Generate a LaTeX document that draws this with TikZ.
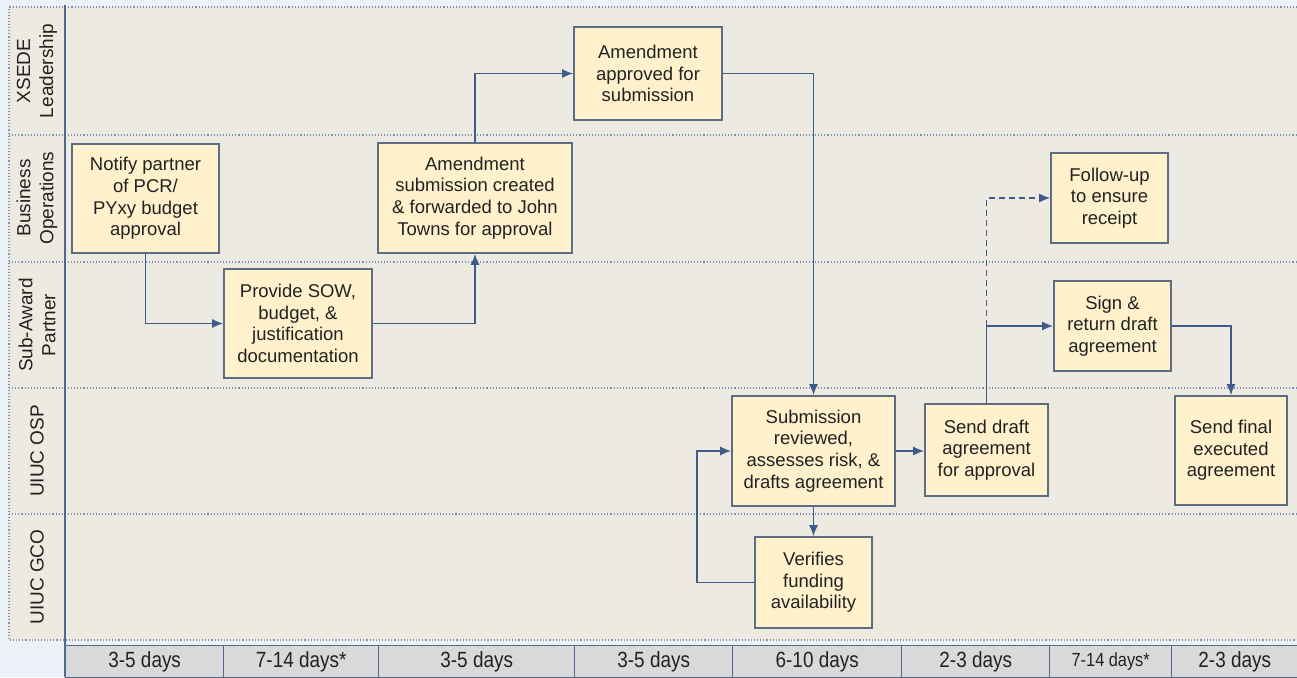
\documentclass[tikz,border=0pt]{standalone}
\usepackage{fontspec}
\setmainfont{Liberation Sans}
\newfontfamily\condfont{Liberation Sans}[FakeStretch=0.86]
\usetikzlibrary{arrows.meta}
\definecolor{lanefill}{HTML}{ECEAE1}
\definecolor{outerbg}{HTML}{EDF2F9}
\definecolor{dotc}{HTML}{7F93AE}
\definecolor{axisc}{HTML}{4F6A8F}
\definecolor{boxc}{HTML}{5E6E82}
\definecolor{boxfill}{HTML}{FFF1CC}
\definecolor{linec}{HTML}{3D5C8C}
\definecolor{tlfill}{HTML}{D9D9D9}
\definecolor{txt}{HTML}{222222}
\tikzset{
  x=1pt, y=-1pt,
  box/.style={draw=boxc, fill=boxfill, line width=1.6pt, align=center, text=txt,
    font=\fontsize{18.5}{21.7}\selectfont, inner sep=0pt},
  conn/.style={draw=linec, line width=1.6pt, -{Latex[length=11pt,width=9pt]}},
  lanelbl/.style={rotate=90, align=center, text=txt, font=\fontsize{19}{23}\selectfont},
  sepline/.style={draw=dotc, line width=1.1pt, dotted},
  tlbox/.style={draw=axisc, fill=tlfill, line width=1.4pt, text=txt, inner sep=0pt,
    font=\condfont\fontsize{22}{24}\selectfont},
}
\begin{document}
\begin{tikzpicture}
\useasboundingbox (0,0) rectangle (1297,677);
\fill[outerbg] (0,0) rectangle (1297,677);
% lane area
\fill[lanefill] (9,7) rectangle (1297,640);
\draw[sepline] (1297,7) -- (9,7) -- (9,640) -- (1297,640);
\foreach \yy in {135,262,388,514} \draw[sepline] (9,\yy) -- (1297,\yy);
% axis line
\draw[axisc, line width=1.6pt] (65,5) -- (65,677);
% lane labels
\node[lanelbl] (l1) at (37,71) {XSEDE\\Leadership};
\node[lanelbl] (l2) at (37,198) {Business\\Operations};
\node[lanelbl] (l3) at (37,325) {Sub-Award\\Partner};
\node[lanelbl] (l4) at (37,451) {UIUC OSP};
\node[lanelbl] (l5) at (37,577) {UIUC GCO};
% timeline
\foreach \xa/\xb/\t [count=\i] in {65/223/3-5 days,223/378/7-14 days*,378/574/3-5 days,574/732/3-5 days,732/901/6-10 days,901/1049/2-3 days,1049/1171/{\fontsize{19}{20}\selectfont 7-14 days*},1171/1297/2-3 days}
  \node[tlbox, minimum width=\xb-\xa, minimum height=32, anchor=north west] (t\i) at (\xa,645) {\t};
% boxes
\node[box, minimum width=147, minimum height=109] (notify) at (145.5,198.5) {Notify partner\\of PCR/\\PYxy budget\\approval};
\node[box, minimum width=148, minimum height=109] (sow) at (298,323.5) {Provide SOW,\\budget, \&\\justification\\documentation};
\node[box, minimum width=194, minimum height=110] (amsub) at (475,198) {Amendment\\submission created\\\& forwarded to John\\Towns for approval};
\node[box, minimum width=148, minimum height=93] (amapp) at (648,73.5) {Amendment\\approved for\\submission};
\node[box, minimum width=163, minimum height=110] (review) at (813.5,451) {Submission\\reviewed,\\assesses risk, \&\\drafts agreement};
\node[box, minimum width=117, minimum height=91] (verify) at (813.5,582.5) {Verifies\\funding\\availability};
\node[box, minimum width=123, minimum height=92] (draft) at (986.5,450) {Send draft\\agreement\\for approval};
\node[box, minimum width=117, minimum height=90] (follow) at (1109.5,198) {Follow-up\\to ensure\\receipt};
\node[box, minimum width=117, minimum height=90] (sign) at (1112.5,326) {Sign \&\\return draft\\agreement};
\node[box, minimum width=112, minimum height=109] (final) at (1231,450.5) {Send final\\executed\\agreement};
% connectors
\coordinate (c1) at (notify.south |- sow.west);
\draw[conn] (notify.south) -- (c1) -- (sow.west);
\coordinate (c2) at (amsub.south |- sow.east);
\draw[conn] (sow.east) -- (c2) -- (amsub.south);
\coordinate (c3) at (amsub.north |- amapp.west);
\draw[conn] (amsub.north) -- (c3) -- (amapp.west);
\coordinate (c4) at (review.north |- amapp.east);
\draw[conn] (amapp.east) -- (c4) -- (review.north);
\draw[conn] (review.south) -- (verify.north);
\coordinate (c5) at (697,582.5);
\coordinate (c6) at (697,451);
\draw[conn] (verify.west) -- (c5) -- (c6) -- (review.west);
\draw[conn] (review.east) -- (review.east -| draft.west);
\coordinate (c7) at (draft.north |- sign.west);
\draw[conn] (draft.north) -- (c7) -- (sign.west);
\coordinate (c8) at (draft.north |- follow.west);
\draw[conn, dashed, dash pattern=on 6pt off 4pt] (c7) -- (c8) -- (follow.west);
\coordinate (c9) at (final.north |- sign.east);
\draw[conn] (sign.east) -- (c9) -- (final.north);
\end{tikzpicture}
\end{document}
